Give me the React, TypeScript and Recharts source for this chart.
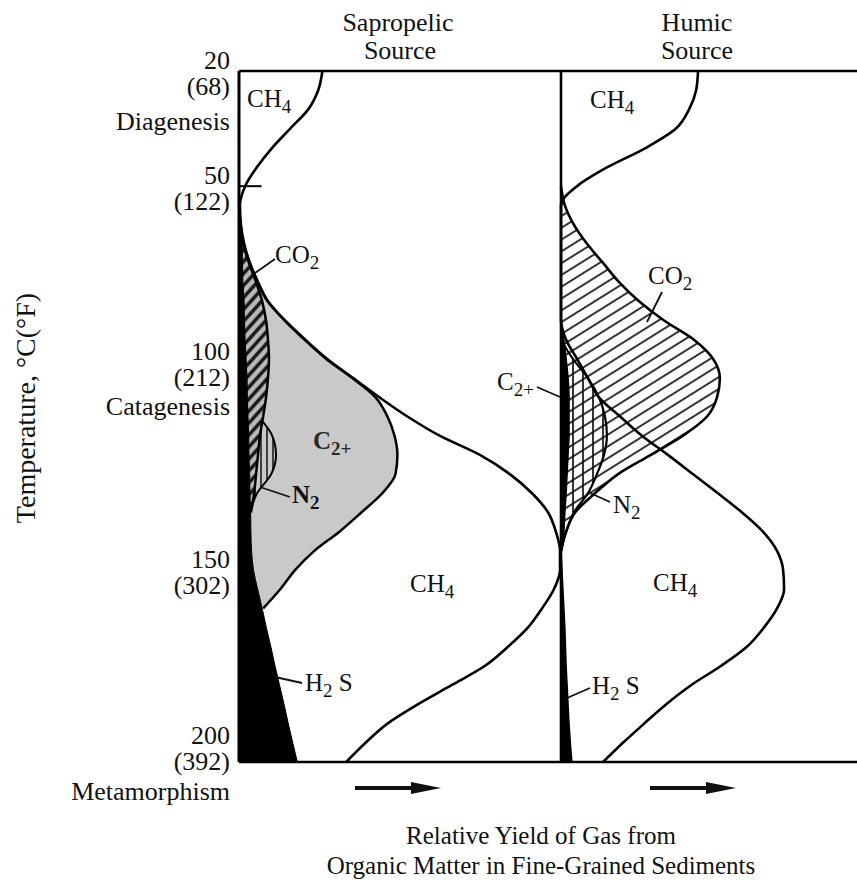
import React from 'react';
import { ComposedChart, Area, Line, XAxis, YAxis, ReferenceLine } from 'recharts';

const N = null;

// temperature rows, °C (top of diagram = 20, bottom = 200)
const temps = [20, 25, 30, 35, 40, 45, 50, 55, 60, 65, 70, 75, 80, 85, 90, 95, 100, 105, 110, 115, 120, 125, 130, 135, 140, 145, 150, 155, 160, 165, 170, 175, 180, 185, 190, 195, 200];
const stageTicks = [20, 50, 100, 150, 200];

// Sapropelic source, relative yield (0-100 across the panel)
const sapCH4 = [25.9, 24.6, 21.5, 15.9, 10.3, 5.6, 1.9, 0.3, 0.6, 1.6, 3.4, 5.9, 9.0, 14.3, 20.6, 27.4, 35.5, 43.6, 52.3, 62.3, 74.8, 84.1, 91.0, 96.0, 98.4, 99.7, 99.7, 97.8, 94.1, 89.7, 83.5, 76.3, 66.0, 55.5, 46.1, 39.3, 33.3];
const sapC2 = [N, N, N, N, N, N, N, 0, 0.5, 1.4, 3.3, 5.8, 8.9, 14.2, 20.4, 27.1, 35.2, 42.4, 46.1, 48.3, 49.2, 48.6, 44.5, 38, 31.2, 23.4, 17.4, 12.8, 7.5, N, N, N, N, N, N, N, N];
const sapCO2 = [N, N, N, N, N, N, N, N, 0, 1.2, 3.1, 5.3, 7.2, 8.4, 9.0, 9.3, 9.0, 8.4, 7.5, 6.5, 5.9, 5.3, 4.7, 3.7, N, N, N, N, N, N, N, N, N, N, N, N, N];
const sapN2 = [N, N, N, N, N, N, N, N, N, N, N, N, N, N, N, N, N, 0, 6, 10.3, 11.5, 10, 5.6, 3.5, N, N, N, N, N, N, N, N, N, N, N, N, N];
const sapH2S = [N, N, N, N, N, N, 0, 0.3, 0.6, 0.9, 1.1, 1.2, 1.6, 1.7, 1.9, 2.2, 2.5, 2.6, 2.8, 3.0, 3.1, 3.3, 3.4, 3.6, 3.7, 3.9, 4.5, 5.8, 7.2, 8.5, 9.9, 11.2, 12.6, 14.0, 15.3, 16.7, 18.1];

// Humic source
const humCH4 = [42.7, 42.1, 39.9, 35.8, 26.5, 14.6, 5.0, 0, 0, 0, 0, 0, 0, 0, 1.6, 5.0, 8.4, 11.8, 18.4, 25.2, 33.3, 41.1, 48.9, 56.4, 62.9, 67.3, 69.2, 69.5, 67.3, 63.2, 57.9, 49.8, 40.5, 32.7, 25.9, 19.3, 13.1];
const humCO2 = [N, N, N, N, N, N, 0, 1.2, 4.0, 8.1, 13.1, 18.1, 24.3, 32.1, 41.4, 47.4, 49.5, 48.6, 45.5, 38.0, 28.0, 17.8, 10.6, 4.4, 1.6, 0, N, N, N, N, N, N, N, N, N, N, N];
const humN2 = [N, N, N, N, N, N, N, N, N, N, N, N, N, N, 0, 3.7, 8.4, 11.8, 13.7, 14.3, 13.4, 11.2, 8.4, 4.0, 1.6, 0, N, N, N, N, N, N, N, N, N, N, N];
const humC2 = [N, N, N, N, N, N, N, N, N, N, N, N, N, 0, 0.9, 1.6, 2.2, 2.5, 2.5, 2.5, 2.2, 1.9, 1.6, 1.2, 0.9, 0.3, N, N, N, N, N, N, N, N, N, N, N];
const humH2S = [N, N, N, N, N, N, N, N, N, N, N, N, N, N, N, N, N, N, N, N, N, N, N, N, N, 0, 0.3, 0.6, 0.9, 1.2, 1.4, 1.6, 1.9, 2.2, 2.5, 2.9, 3.4];

const sapData = temps.map((t, i) => ({ t, ch4: sapCH4[i], c2: sapC2[i], co2: sapCO2[i], n2: sapN2[i], h2s: sapH2S[i] }));
const humData = temps.map((t, i) => ({ t, ch4: humCH4[i], c2: humC2[i], co2: humCO2[i], n2: humN2[i], h2s: humH2S[i] }));

const FONT = "'Liberation Serif', 'Times New Roman', serif";
const INK = '#111';

// the printed labels for 100 and 200 sit a little higher than their scale position
const labelShift: Record<number, number> = { 100: -16, 200: -16 };

const TempTick = (props: any) => {
  const { y, payload } = props;
  const v = payload.value;
  const dy = labelShift[v] ?? 0;
  const f = Math.round((v * 9) / 5 + 32);
  return (
    <g fontFamily={FONT} fontSize={26} fill={INK}>
      <text x={230} y={y - 2 + dy} textAnchor="end">{v}</text>
      <text x={230} y={y + 24 + dy} textAnchor="end">({f})</text>
    </g>
  );
};

const Chem = ({ x, y, head, sub, tail = '', bold = false, fill = INK }: any) => (
  <text x={x} y={y} fontFamily={FONT} fontSize={25} fontWeight={bold ? 'bold' : 'normal'} fill={fill}>
    {head}
    <tspan dy={6} fontSize={19}>{sub}</tspan>
    {tail ? <tspan dy={-6}>{tail}</tspan> : null}
  </text>
);

const Leader = ({ x1, y1, x2, y2 }: any) => <line x1={x1} y1={y1} x2={x2} y2={y2} stroke={INK} strokeWidth={1.8} />;

const Arrow = ({ x, y }: any) => (
  <g fill={INK}>
    <line x1={x} y1={y} x2={x + 62} y2={y} stroke={INK} strokeWidth={4} />
    <polygon points={`${x + 56},${y - 6} ${x + 86},${y} ${x + 56},${y + 6}`} />
  </g>
);

const App: React.FC = () => {
  return (
    <div style={{ position: 'absolute', left: 0, top: 0, width: 857, height: 890, overflow: 'hidden', background: '#fff' }}>
      <svg width={0} height={0} style={{ position: 'absolute' }}>
        <defs>
          <pattern id="sapCO2" patternUnits="userSpaceOnUse" width={8} height={8} patternTransform="rotate(-48)">
            <rect width={8} height={8} fill="#b9b9b9" />
            <line x1={0} y1={4} x2={8} y2={4} stroke="#141414" strokeWidth={3.4} />
          </pattern>
          <pattern id="sapN2" patternUnits="userSpaceOnUse" width={6} height={6}>
            <line x1={3} y1={0} x2={3} y2={6} stroke="#111" strokeWidth={1.5} />
          </pattern>
          <pattern id="humCO2" patternUnits="userSpaceOnUse" width={10} height={10} patternTransform="rotate(-32)">
            <line x1={0} y1={5} x2={10} y2={5} stroke="#111" strokeWidth={1.7} />
          </pattern>
          <pattern id="humN2" patternUnits="userSpaceOnUse" width={10} height={10}>
            <line x1={5} y1={0} x2={5} y2={10} stroke="#111" strokeWidth={1.7} />
          </pattern>
        </defs>
      </svg>

      {/* Sapropelic panel with the temperature axis */}
      <div style={{ position: 'absolute', left: 0, top: 0 }}>
        <ComposedChart layout="vertical" width={561} height={890} data={sapData} margin={{ top: 71, right: 0, bottom: 128, left: 0 }}>
          <XAxis type="number" domain={[0, 100]} hide />
          <YAxis
            type="number"
            dataKey="t"
            domain={[20, 200]}
            ticks={stageTicks}
            interval={0}
            width={239}
            axisLine={{ stroke: '#000', strokeWidth: 3 }}
            tickLine={false}
            tick={(p: any) => <TempTick {...p} />}
          />
          <Area dataKey="c2" type="monotone" baseValue={0} fill="#c9c9c9" fillOpacity={1} stroke="#000" strokeWidth={2.5} isAnimationActive={false} />
          <Area dataKey="n2" type="monotone" baseValue={0} fill="url(#sapN2)" fillOpacity={1} stroke="#000" strokeWidth={2} isAnimationActive={false} />
          <Area dataKey="co2" type="monotone" baseValue={0} fill="url(#sapCO2)" fillOpacity={1} stroke="#000" strokeWidth={2.5} isAnimationActive={false} />
          <Area dataKey="h2s" type="monotone" baseValue={0} fill="#000" fillOpacity={1} stroke="#000" strokeWidth={1} isAnimationActive={false} />
          <Line dataKey="ch4" type="monotone" stroke="#000" strokeWidth={2.6} dot={false} isAnimationActive={false} />
          <ReferenceLine y={20} stroke="#000" strokeWidth={2.5} />
          <ReferenceLine y={200} stroke="#000" strokeWidth={2.5} />
          <ReferenceLine segment={[{ x: 0, y: 50 }, { x: 7, y: 50 }]} stroke="#000" strokeWidth={2} />
        </ComposedChart>
      </div>

      {/* Humic panel */}
      <div style={{ position: 'absolute', left: 558, top: 0 }}>
        <ComposedChart layout="vertical" width={324} height={890} data={humData} margin={{ top: 71, right: 0, bottom: 128, left: 3 }}>
          <XAxis type="number" domain={[0, 100]} hide />
          <YAxis type="number" dataKey="t" domain={[20, 200]} hide />
          <Area dataKey="co2" type="monotone" baseValue={0} fill="url(#humCO2)" fillOpacity={1} stroke="#000" strokeWidth={2.6} isAnimationActive={false} />
          <Area dataKey="n2" type="monotone" baseValue={0} fill="url(#humN2)" fillOpacity={1} stroke="#000" strokeWidth={2.2} isAnimationActive={false} />
          <Area dataKey="c2" type="monotone" baseValue={0} fill="#000" fillOpacity={1} stroke="#000" strokeWidth={1.5} isAnimationActive={false} />
          <Area dataKey="h2s" type="monotone" baseValue={0} fill="#000" fillOpacity={1} stroke="#000" strokeWidth={1.5} isAnimationActive={false} />
          <Line dataKey="ch4" type="monotone" stroke="#000" strokeWidth={2.6} dot={false} isAnimationActive={false} />
          <ReferenceLine x={0} stroke="#000" strokeWidth={2.6} />
          <ReferenceLine y={20} stroke="#000" strokeWidth={2.5} />
          <ReferenceLine y={200} stroke="#000" strokeWidth={2.5} />
        </ComposedChart>
      </div>

      {/* titles and annotations */}
      <svg width={857} height={890} style={{ position: 'absolute', left: 0, top: 0, pointerEvents: 'none' }}>
        <g fontFamily={FONT} fontSize={26} fill={INK}>
          <text x={398} y={31} textAnchor="middle">Sapropelic</text>
          <text x={400} y={59} textAnchor="middle">Source</text>
          <text x={697} y={31} textAnchor="middle">Humic</text>
          <text x={697} y={59} textAnchor="middle">Source</text>

          <text x={230} y={130} textAnchor="end">Diagenesis</text>
          <text x={230} y={415} textAnchor="end">Catagenesis</text>
          <text x={230} y={800} textAnchor="end">Metamorphism</text>

          <text transform="translate(35,408) rotate(-90)" textAnchor="middle" fontSize={28}>Temperature, °C(°F)</text>

          <text x={541} y={844} textAnchor="middle" fontSize={25}>Relative Yield of Gas from</text>
          <text x={541} y={874} textAnchor="middle" fontSize={25}>Organic Matter in Fine-Grained Sediments</text>
        </g>

        <Chem x={247} y={107} head="CH" sub="4" />
        <Chem x={275} y={263} head="CO" sub="2" />
        <Leader x1={255} y1={273} x2={275} y2={259} />
        <Chem x={313} y={449} head="C" sub="2+" bold fill="#2a2a2a" />
        <Chem x={292} y={503} head="N" sub="2" bold />
        <Leader x1={260} y1={487} x2={290} y2={497} />
        <Chem x={410} y={592} head="CH" sub="4" />
        <Chem x={305} y={691} head="H" sub="2" tail=" S" />
        <Leader x1={275} y1={677} x2={302} y2={683} />

        <Chem x={590} y={108} head="CH" sub="4" />
        <Chem x={648} y={284} head="CO" sub="2" />
        <Leader x1={662} y1={292} x2={647} y2={322} />
        <Chem x={497} y={390} head="C" sub="2+" />
        <Leader x1={537} y1={387} x2={560} y2={397} />
        <Chem x={613} y={513} head="N" sub="2" />
        <Leader x1={590} y1={493} x2={610} y2={502} />
        <Chem x={653} y={591} head="CH" sub="4" />
        <Chem x={592} y={694} head="H" sub="2" tail=" S" />
        <Leader x1={567} y1={698} x2={590} y2={688} />

        <Arrow x={355} y={788} />
        <Arrow x={650} y={788} />
      </svg>
    </div>
  );
};

export default App;
